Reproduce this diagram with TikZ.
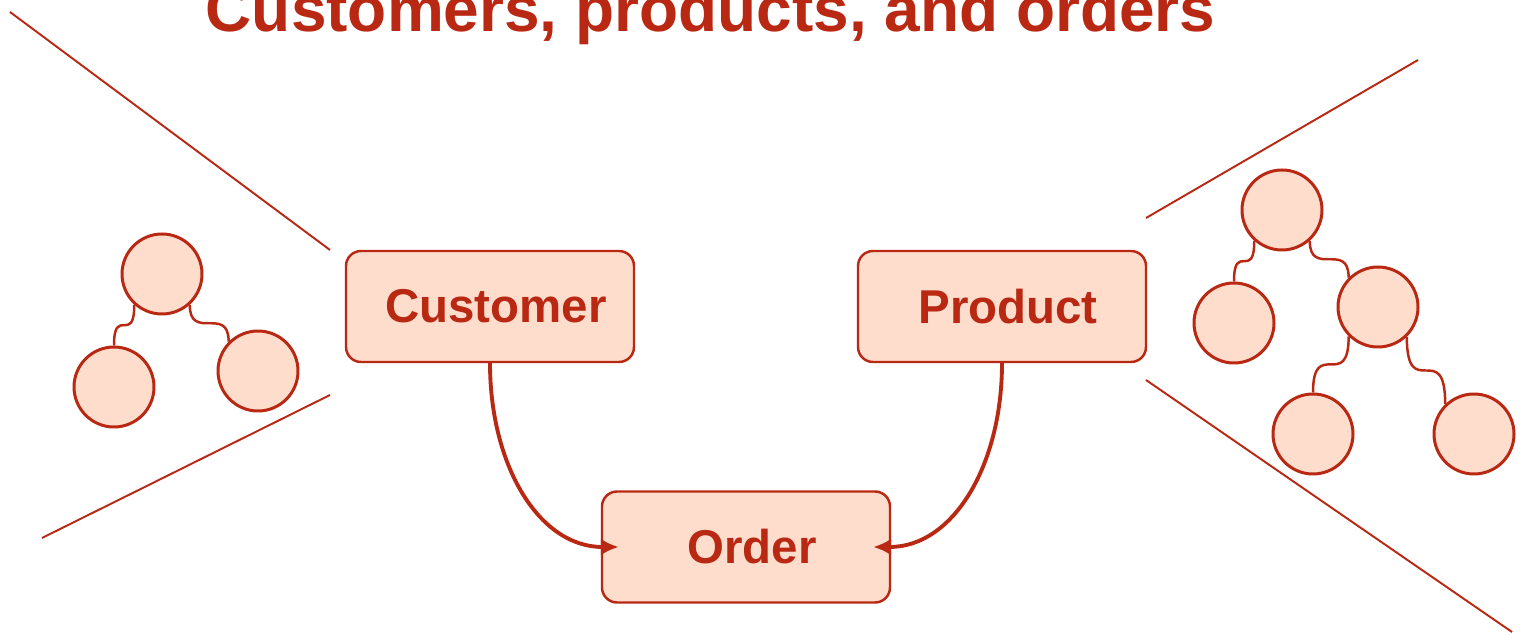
\documentclass[tikz,border=0pt]{standalone}
\usepackage{fontspec}
\setmainfont{Liberation Sans}
\usetikzlibrary{arrows.meta}
\definecolor{brick}{RGB}{184,40,18}
\definecolor{peach}{RGB}{255,221,205}
\tikzset{
  entity/.style={rectangle,draw=brick,fill=peach,line width=0.7pt,rounded corners=1.5mm,
    minimum width=2.88cm,minimum height=1.11cm,text=brick,font=\fontsize{13.5}{16}\selectfont\bfseries},
  leaf/.style={circle,draw=brick,fill=peach,line width=0.85pt,minimum size=8mm,inner sep=0pt},
  branch/.style={draw=brick,line width=0.7pt,
    to path={.. controls (\tikztostart|-\tikztotarget) and (\tikztotarget|-\tikztostart) .. (\tikztotarget)}},
  link/.style={draw=brick,line width=1.1pt,-{Latex[length=1.8mm,width=1.7mm]},shorten >=-1.8mm},
  edgeline/.style={draw=brick,line width=0.55pt},
  heading/.style={text=brick,font=\fontsize{18.2}{22}\selectfont\bfseries}
}
\begin{document}
\begin{tikzpicture}
		\useasboundingbox (0,0) rectangle (15.21,6.35);
		\node[heading,anchor=base] (title) at (7.105, 6.03) {Customers, products, and orders};

		\node[entity] (customer) at (4.90, 3.285) {\hspace*{1.2mm}Customer};
		\node[entity] (product) at (10.02, 3.285) {\hspace*{1.2mm}Product};
		\node[entity] (order) at (7.46, 0.88) {\hspace*{1.2mm}Order};

		% left tree
		\node[leaf] (lroot) at (1.62, 3.61) {};
		\node[leaf] (lleft) at (1.14, 2.48) {};
		\node[leaf] (lright) at (2.58, 2.64) {};

		% right tree
		\node[leaf] (rroot) at (12.82, 4.25) {};
		\node[leaf] (rleft) at (12.34, 3.12) {};
		\node[leaf] (rmid) at (13.78, 3.28) {};
		\node[leaf] (rbl) at (13.13, 2.01) {};
		\node[leaf] (rbr) at (14.74, 2.01) {};

		\draw[branch] (lroot.228) to (lleft.north);
		\draw[branch] (lroot.312) to (lright.135);
		\draw[branch] (rroot.228) to (rleft.north);
		\draw[branch] (rroot.312) to (rmid.135);
		\draw[branch] (rmid.225) to (rbl.north);
		\draw[branch] (rmid.314) to (rbr.134);

		\draw[link] (customer.south) .. controls +(0,-1.02) and +(-0.62,0) .. (order.west);
		\draw[link] (product.south) .. controls +(0,-1.02) and +(0.62,0) .. (order.east);

		\draw[edgeline] (0.10, 6.23) -- (3.30, 3.85);
		\draw[edgeline] (0.42, 0.97) -- (3.30, 2.40);
		\draw[edgeline] (11.46, 4.17) -- (14.18, 5.75);
		\draw[edgeline] (11.46, 2.55) -- (15.12, 0.03);
	\end{tikzpicture}
\end{document}
